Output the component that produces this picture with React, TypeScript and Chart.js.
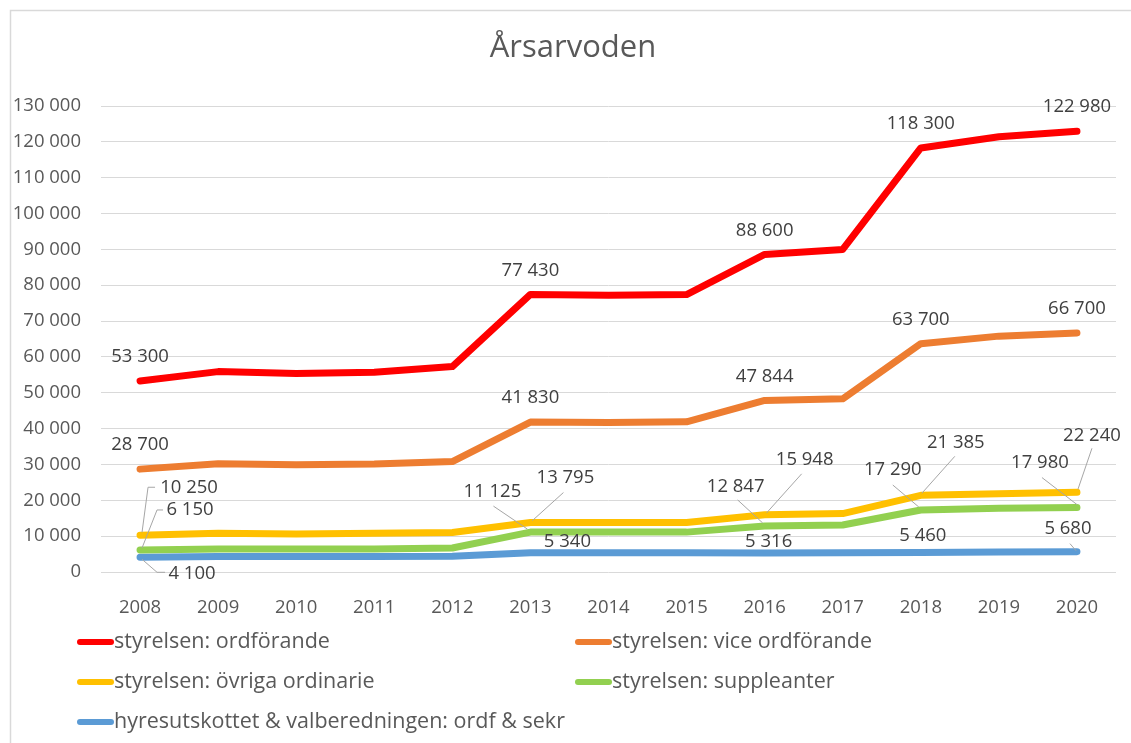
import React, { useEffect, useRef } from "react";
import { Chart, registerables } from "chart.js";

Chart.register(...registerables);

const years = ["2008", "2009", "2010", "2011", "2012", "2013", "2014", "2015", "2016", "2017", "2018", "2019", "2020"];
const ordforande = [53300, 55900, 55350, 55700, 57300, 77430, 77200, 77400, 88600, 90000, 118300, 121400, 122980];
const viceOrdforande = [28700, 30200, 29900, 30100, 30800, 41830, 41700, 41900, 47844, 48300, 63700, 65800, 66700];
const ovrigaOrdinarie = [10250, 10800, 10600, 10800, 11000, 13795, 13795, 13795, 15948, 16300, 21385, 21800, 22240];
const suppleanter = [6150, 6400, 6400, 6450, 6700, 11125, 11125, 11125, 12847, 13100, 17290, 17750, 17980];
const hyresutskottet = [4100, 4300, 4300, 4300, 4400, 5340, 5340, 5340, 5316, 5400, 5460, 5570, 5680];

const seriesNames = [
  "styrelsen: ordförande",
  "styrelsen: vice ordförande",
  "styrelsen: övriga ordinarie",
  "styrelsen: suppleanter",
  "hyresutskottet & valberedningen: ordf & sekr",
];
const seriesColors = ["#FF0000", "#ED7D31", "#FFC000", "#92D050", "#5B9BD5"];
const labelledIndexes = [0, 5, 8, 10, 12];
const yTickMax = 130000;
const yTickStep = 10000;
const chartTitle = "Årsarvoden";

// label placement (style): offsets of label centre relative to the point, optional leader path
type Place = { dx: number; dy: number; leader?: number[][] };
const above: Place = { dx: 0, dy: -24 };
const placements: Record<number, Record<number, Place>> = {
  0: { 0: above, 5: above, 8: above, 10: above, 12: above },
  1: { 0: above, 5: above, 8: above, 10: above, 12: above },
  2: {
    0: { dx: 49, dy: -48, leader: [[15, -48], [8, -48], [2, -3]] },
    5: { dx: 35, dy: -45, leader: [[33, -30], [2, -2]] },
    8: { dx: 40, dy: -55, leader: [[37, -41], [2, -2]] },
    10: { dx: 35, dy: -53, leader: [[34, -39], [1, -2]] },
    12: { dx: 15, dy: -57, leader: [[15, -44], [1, -3]] },
  },
  3: {
    0: { dx: 50, dy: -40, leader: [[23, -40], [17, -40], [2, -2]] },
    5: { dx: -38, dy: -40, leader: [[-37, -26], [-3, -3]] },
    8: { dx: -29, dy: -39, leader: [[-27, -26], [-2, -3]] },
    10: { dx: -28, dy: -40, leader: [[-28, -25], [-2, -3]] },
    12: { dx: -37, dy: -45, leader: [[-35, -30], [0, -3]] },
  },
  4: {
    0: { dx: 52, dy: 16, leader: [[25, 15], [17, 15], [2, 2]] },
    5: { dx: 37, dy: -11 },
    8: { dx: 4, dy: -11 },
    10: { dx: 2, dy: -17 },
    12: { dx: -9, dy: -23, leader: [[-7, -8], [-1, -1]] },
  },
};

const FONT = "'Open Sans', 'Noto Sans', sans-serif";
const fmt = (v: number) => String(Math.round(v)).replace(/\B(?=(\d{3})+(?!\d))/g, " ");

const decorPlugin = {
  id: "decor",
  beforeDraw(chart: any) {
    const ctx = chart.ctx;
    ctx.save();
    ctx.fillStyle = "#ffffff";
    ctx.fillRect(0, 0, chart.width, chart.height);
    ctx.strokeStyle = "#d9d9d9";
    ctx.lineWidth = 1.5;
    ctx.beginPath();
    ctx.moveTo(10.5, chart.height);
    ctx.lineTo(10.5, 10.5);
    ctx.lineTo(chart.width, 10.5);
    ctx.stroke();
    // title
    ctx.fillStyle = "#595959";
    ctx.font = `31px ${FONT}`;
    ctx.textAlign = "center";
    ctx.textBaseline = "alphabetic";
    ctx.fillText(chartTitle, 573, 57);
    ctx.restore();
  },
  afterDatasetsDraw(chart: any) {
    const ctx = chart.ctx;
    ctx.save();
    // data labels
    chart.data.datasets.forEach((ds: any, di: number) => {
      const meta = chart.getDatasetMeta(di);
      const places = placements[di] || {};
      labelledIndexes.forEach((idx) => {
        const p = places[idx];
        if (!p) return;
        const el = meta.data[idx];
        const x = el.x, y = el.y;
        if (p.leader) {
          ctx.strokeStyle = "#a6a6a6";
          ctx.lineWidth = 1;
          ctx.beginPath();
          p.leader.forEach((pt, k) => {
            if (k === 0) ctx.moveTo(x + pt[0], y + pt[1]);
            else ctx.lineTo(x + pt[0], y + pt[1]);
          });
          ctx.stroke();
        }
        ctx.fillStyle = "#404040";
        ctx.font = `18.5px ${FONT}`;
        ctx.textAlign = "center";
        ctx.textBaseline = "middle";
        ctx.fillText(fmt(ds.data[idx]), x + p.dx, y + p.dy);
      });
    });
    // legend
    const cols = [77, 575];
    const rows = [642, 682, 722];
    chart.data.datasets.forEach((ds: any, i: number) => {
      const x = cols[i % 2];
      const y = rows[Math.floor(i / 2)];
      ctx.strokeStyle = ds.borderColor;
      ctx.lineWidth = 6;
      ctx.lineCap = "round";
      ctx.beginPath();
      ctx.moveTo(x + 3, y);
      ctx.lineTo(x + 34, y);
      ctx.stroke();
      ctx.fillStyle = "#595959";
      ctx.font = `21.5px ${FONT}`;
      ctx.textAlign = "left";
      ctx.textBaseline = "middle";
      ctx.fillText(ds.label, x + 37, y);
    });
    ctx.restore();
  },
};

export default function App() {
  const ref = useRef<HTMLCanvasElement | null>(null);
  useEffect(() => {
    if (!ref.current) return;
    const series = [ordforande, viceOrdforande, ovrigaOrdinarie, suppleanter, hyresutskottet];
    const chart = new Chart(ref.current, {
      type: "line",
      data: {
        labels: years,
        datasets: series.map((d, i) => ({
          label: seriesNames[i],
          data: d,
          borderColor: seriesColors[i],
          backgroundColor: seriesColors[i],
          borderWidth: 7,
          borderCapStyle: "round",
          borderJoinStyle: "round",
          pointRadius: 0,
          tension: 0,
          fill: false,
        })),
      },
      options: {
        responsive: false,
        animation: false,
        devicePixelRatio: 1,
        layout: { padding: { left: 10, top: 106, right: 15, bottom: 0 } },
        plugins: {
          legend: { display: false },
          title: { display: false },
          tooltip: { enabled: false },
        },
        scales: {
          x: {
            offset: true,
            grid: { display: false },
            border: { display: false },
            ticks: { color: "#595959", font: { family: FONT, size: 18.5 }, padding: 17, maxRotation: 0 },
            afterFit: (s: any) => {
              s.height = 171;
            },
          },
          y: {
            min: 0,
            max: yTickMax,
            grid: { color: "#d9d9d9", lineWidth: 1, drawTicks: false },
            border: { display: false },
            ticks: {
              stepSize: yTickStep,
              color: "#595959",
              font: { family: FONT, size: 18.5 },
              padding: 20,
              callback: (v: any) => fmt(Number(v)),
            },
            afterFit: (s: any) => {
              s.width = 91;
            },
          },
        },
      } as any,
      plugins: [decorPlugin],
    });
    return () => chart.destroy();
  }, []);
  return (
    <div style={{ position: "absolute", left: 0, top: 0, width: 1131, height: 743 }}>
      <canvas ref={ref} width={1131} height={743} style={{ display: "block", width: 1131, height: 743 }} />
    </div>
  );
}
